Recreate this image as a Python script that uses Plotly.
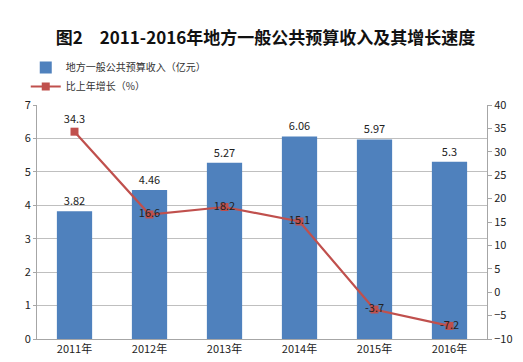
import plotly.graph_objects as go

years = ["2011年", "2012年", "2013年", "2014年", "2015年", "2016年"]
revenue = [3.82, 4.46, 5.27, 6.06, 5.97, 5.3]
revenue_labels = ["3.82", "4.46", "5.27", "6.06", "5.97", "5.3"]
growth = [34.3, 16.6, 18.2, 15.1, -3.7, -7.2]
growth_labels = ["34.3", "16.6", "18.2", "15.1", "-3.7", "-7.2"]
left_ticks = [0, 1, 2, 3, 4, 5, 6, 7]
right_ticks = [-10, -5, 0, 5, 10, 15, 20, 25, 30, 35, 40]

FONT = "Noto Sans CJK SC, sans-serif"
W, H = 515, 354  # page body has 8px default margin

fig = go.Figure()
fig.add_trace(go.Bar(
    x=years, y=revenue, name="地方一般公共预算收入（亿元）",
    marker=dict(color="#4F81BD", line=dict(width=0)),
    width=0.47,
    text=revenue_labels, textposition="outside", cliponaxis=False,
    textfont=dict(size=11, color="#222", family=FONT),
    yaxis="y",
))
fig.add_trace(go.Scatter(
    x=years, y=growth, name="比上年增长（%）",
    mode="lines+markers+text",
    line=dict(color="#C0504D", width=2.2),
    marker=dict(symbol="square", size=8, color="#C0504D"),
    text=growth_labels,
    textposition=["top center", "middle center", "middle center", "middle center", "middle center", "middle center"],
    textfont=dict(size=11, color="#222", family=FONT),
    yaxis="y2", cliponaxis=False,
))

fig.update_layout(
    width=W, height=H,
    margin=dict(l=29, r=36, t=97, b=23, autoexpand=False),
    paper_bgcolor="white", plot_bgcolor="white",
    font=dict(family=FONT, size=11, color="#333"),
    title=dict(text="<b>图2　2011-2016年地方一般公共预算收入及其增长速度</b>",
               x=0.5, xanchor="center", y=1 - 30 / H, yanchor="middle",
               font=dict(size=17, color="#111", family=FONT)),
    showlegend=True,
    legend=dict(x=-0.025, y=1 - 45 / H, xref="paper", yref="container", xanchor="left", yanchor="top",
                font=dict(size=10, color="#333", family=FONT),
                bgcolor="rgba(0,0,0,0)", tracegroupgap=0, itemwidth=30),
    bargap=0.53,
    xaxis=dict(showgrid=False, showline=True, linecolor="#A6A6A6", linewidth=1,
               ticks="", tickfont=dict(size=11, color="#222"), automargin=False),
    yaxis=dict(range=[0, 7], tickvals=left_ticks, showgrid=True, gridcolor="#BFBFBF",
               gridwidth=1, showline=True, linecolor="#A6A6A6", zeroline=False,
               ticks="outside", ticklen=3, tickcolor="#A6A6A6",
               tickfont=dict(size=11, color="#222"), automargin=False),
    yaxis2=dict(range=[-10, 40], tickvals=right_ticks, overlaying="y", side="right",
                showgrid=False, showline=True, linecolor="#A6A6A6", zeroline=False,
                ticks="outside", ticklen=4, tickcolor="#A6A6A6",
                tickfont=dict(size=11, color="#222"), automargin=False),
)

fig.write_html("out.html")
